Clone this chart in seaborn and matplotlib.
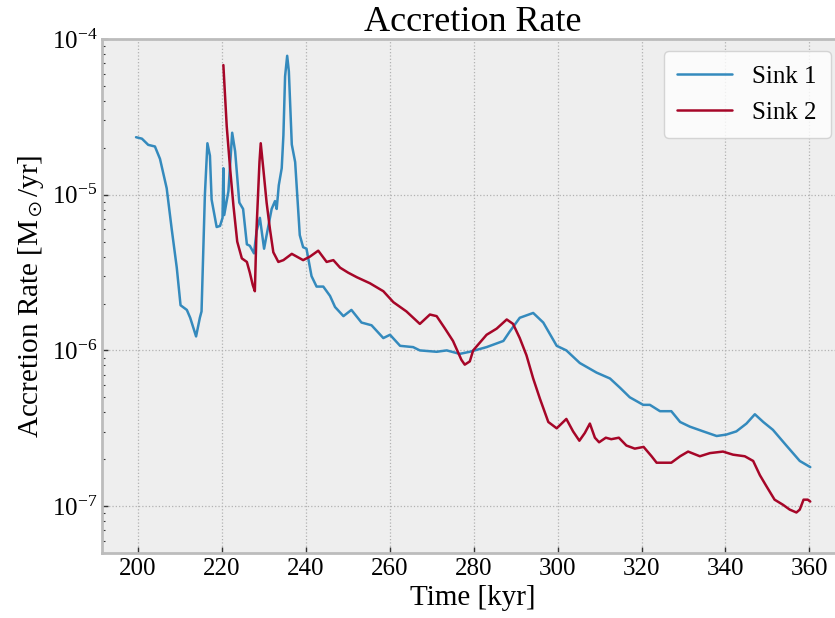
import matplotlib
matplotlib.use("Agg")
import matplotlib.pyplot as plt
import seaborn as sns
import pandas as pd
from matplotlib.ticker import LogLocator

# ---------------- data ----------------
sink1_time = [199.6, 201.0, 202.5, 204.1, 205.3, 206.9, 208.1, 209.3, 210.2, 211.7,
              212.5, 213.9, 214.8, 215.2, 216.0, 216.6, 217.2, 217.6, 218.8, 219.6,
              220.2, 220.4, 220.6, 221.6, 222.5, 223.2, 224.2, 225.1, 226.0, 226.7,
              227.7, 228.3, 229.1, 230.1, 230.7, 231.9, 232.7, 233.1, 233.6, 234.3,
              234.7, 235.1, 235.6, 236.0, 236.7, 237.5, 238.6, 239.4, 240.2, 241.4,
              242.6, 244.2, 245.8, 247.0, 249.0, 250.9, 253.3, 255.7, 258.5, 260.1,
              262.5, 265.6, 267.2, 271.2, 273.6, 276.7, 279.1, 283.1, 287.1, 288.6,
              291.0, 294.2, 296.6, 299.8, 302.1, 305.3, 309.3, 312.5, 314.9, 317.2,
              320.4, 322.0, 324.4, 327.1, 329.2, 331.5, 334.7, 337.9, 340.2, 342.6,
              345.0, 347.0, 349.0, 351.3, 354.5, 357.7, 360.2]
sink1_rate = [2.34e-5, 2.29e-5, 2.09e-5, 2.04e-5, 1.70e-5, 1.10e-5, 6.0e-6, 3.4e-6, 1.95e-6, 1.82e-6,
              1.62e-6, 1.23e-6, 1.62e-6, 1.78e-6, 1.0e-5, 2.14e-5, 1.78e-5, 9.3e-6, 6.2e-6, 6.3e-6,
              7.1e-6, 1.48e-5, 7.4e-6, 1.05e-5, 2.5e-5, 1.9e-5, 8.9e-6, 8.1e-6, 4.8e-6, 4.7e-6,
              4.2e-6, 5.8e-6, 7.1e-6, 4.5e-6, 5.5e-6, 8.1e-6, 9.1e-6, 8.1e-6, 1.15e-5, 1.48e-5,
              2.4e-5, 5.75e-5, 7.8e-5, 6.2e-5, 2.1e-5, 1.62e-5, 5.5e-6, 4.6e-6, 4.5e-6, 3.0e-6,
              2.57e-6, 2.57e-6, 2.24e-6, 1.9e-6, 1.66e-6, 1.82e-6, 1.51e-6, 1.45e-6, 1.2e-6, 1.26e-6,
              1.07e-6, 1.05e-6, 1.0e-6, 9.8e-7, 1.0e-6, 9.5e-7, 9.8e-7, 1.05e-6, 1.15e-6, 1.32e-6,
              1.62e-6, 1.74e-6, 1.51e-6, 1.07e-6, 1.0e-6, 8.3e-7, 7.2e-7, 6.6e-7, 5.75e-7, 5.0e-7,
              4.47e-7, 4.47e-7, 4.07e-7, 4.07e-7, 3.47e-7, 3.24e-7, 3.02e-7, 2.82e-7, 2.88e-7, 3.02e-7,
              3.39e-7, 3.89e-7, 3.47e-7, 3.09e-7, 2.45e-7, 1.95e-7, 1.78e-7]

sink2_time = [220.4, 221.2, 222.0, 222.8, 223.7, 224.8, 226.0, 226.7, 227.4, 227.9,
              228.3, 229.0, 229.3, 229.9, 230.7, 231.5, 232.3, 233.5, 234.7, 236.7,
              239.4, 241.0, 243.0, 245.0, 246.6, 248.2, 250.1, 252.2, 255.3, 258.5,
              260.9, 264.0, 267.2, 269.6, 271.2, 273.2, 275.1, 277.1, 277.9, 279.1,
              279.9, 283.1, 285.5, 287.9, 289.4, 291.0, 292.6, 294.2, 295.8, 297.8,
              299.8, 302.1, 303.7, 305.2, 306.5, 307.7, 308.9, 309.9, 311.5, 312.8,
              314.6, 316.4, 318.4, 320.5, 322.4, 323.6, 327.1, 329.2, 331.1, 333.9,
              336.3, 339.4, 341.8, 344.6, 346.6, 348.2, 349.7, 351.7, 353.7, 355.3,
              356.9, 357.7, 358.6, 359.6, 360.2]
sink2_rate = [6.8e-5, 2.75e-5, 1.48e-5, 8.5e-6, 5.0e-6, 3.9e-6, 3.7e-6, 3.16e-6, 2.63e-6, 2.4e-6,
              6.0e-6, 1.62e-5, 2.14e-5, 1.48e-5, 8.9e-6, 6.0e-6, 4.27e-6, 3.7e-6, 3.8e-6, 4.17e-6,
              3.8e-6, 4.0e-6, 4.37e-6, 3.7e-6, 3.8e-6, 3.4e-6, 3.16e-6, 2.95e-6, 2.7e-6, 2.4e-6,
              2.04e-6, 1.78e-6, 1.48e-6, 1.7e-6, 1.66e-6, 1.38e-6, 1.15e-6, 8.7e-7, 8.1e-7, 8.5e-7,
              1.0e-6, 1.26e-6, 1.38e-6, 1.58e-6, 1.48e-6, 1.2e-6, 9.3e-7, 6.6e-7, 4.9e-7, 3.47e-7,
              3.16e-7, 3.63e-7, 3.02e-7, 2.63e-7, 2.95e-7, 3.39e-7, 2.75e-7, 2.57e-7, 2.75e-7, 2.69e-7,
              2.75e-7, 2.45e-7, 2.34e-7, 2.4e-7, 2.09e-7, 1.9e-7, 1.9e-7, 2.09e-7, 2.24e-7, 2.09e-7,
              2.19e-7, 2.24e-7, 2.14e-7, 2.09e-7, 1.95e-7, 1.58e-7, 1.35e-7, 1.1e-7, 1.02e-7, 9.5e-8,
              9.1e-8, 9.5e-8, 1.1e-7, 1.1e-7, 1.07e-7]

series_names = ["Sink 1", "Sink 2"]
colors = ["#348ABD", "#A60628"]

title_text = "Accretion Rate"
xlabel_text = "Time [kyr]"
ylabel_text = r"Accretion Rate [M$_\odot$/yr]"

# ---------------- frame ----------------
df = pd.concat([
    pd.DataFrame({"Time": sink1_time, "Rate": sink1_rate, "Sink": series_names[0]}),
    pd.DataFrame({"Time": sink2_time, "Rate": sink2_rate, "Sink": series_names[1]}),
], ignore_index=True)

sns.set_theme(style="darkgrid", rc={
    "axes.facecolor": "#EEEEEE",
    "axes.edgecolor": "#BCBCBC",
    "axes.linewidth": 2.0,
    "grid.color": "#B2B2B2",
    "grid.linestyle": ":",
    "grid.linewidth": 0.9,
    "text.color": "black",
    "axes.labelcolor": "black",
    "xtick.color": "#333333",
    "ytick.color": "#333333",
})
plt.rcParams["font.family"] = ["Liberation Serif", "DejaVu Serif"]
plt.rcParams["mathtext.fontset"] = "stix"

fig = plt.figure(figsize=(8.35, 6.18), dpi=100)
ax = fig.add_axes([0.1222, 0.1052, 0.8874, 0.8317])

sns.lineplot(data=df, x="Time", y="Rate", hue="Sink", palette=colors,
             sort=False, estimator=None, linewidth=1.8, ax=ax)

ax.set_yscale("log")
ax.set_ylim(5e-8, 1e-4)
ax.set_xlim(191.5, 368.0)
ax.set_xticks([200, 220, 240, 260, 280, 300, 320, 340, 360])
ax.yaxis.set_major_locator(LogLocator(base=10, numticks=10))
ax.yaxis.set_minor_locator(LogLocator(base=10, subs=range(2, 10), numticks=20))

ax.grid(True, which="major")
ax.grid(False, which="minor")
ax.tick_params(axis="both", which="both", direction="in", labelsize=18,
               left=True, bottom=True, labelcolor="black")
ax.tick_params(axis="both", which="major", length=4, width=1)
ax.tick_params(axis="y", which="minor", length=2.5, width=0.8)
ax.tick_params(axis="x", which="minor", bottom=False)

ax.set_title(title_text, fontsize=26, pad=6, color="black")
ax.set_xlabel(xlabel_text, fontsize=21, color="black")
ax.set_ylabel(ylabel_text, fontsize=21, color="black")

leg = ax.legend(loc="upper right", fontsize=18, frameon=True, fancybox=True,
                framealpha=0.8, edgecolor="#CCCCCC", facecolor="white",
                handlelength=2.2, borderpad=0.55, labelspacing=0.55)
leg.set_title(None)
for txt in leg.get_texts():
    txt.set_color("black")

fig.savefig("out.png", dpi=100)
